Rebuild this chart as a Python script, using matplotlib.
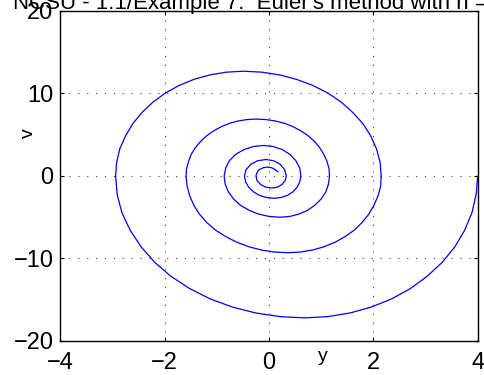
import matplotlib
matplotlib.use("Agg")
import matplotlib.pyplot as plt

# phase portrait points (y, v),
# from the start at the right edge, spiralling inwards (one row per quarter turn)
y_vals = [
    4.00, 3.97, 3.89, 3.75, 3.56, 3.32, 3.03, 2.71, 2.35, 1.96, 1.55, 1.12, 0.69,
    0.22, -0.25, -0.70, -1.125, -1.52, -1.88, -2.19, -2.45, -2.66, -2.82, -2.91, -2.94,
    -2.92, -2.86, -2.75, -2.61, -2.43, -2.22, -1.98, -1.715, -1.43, -1.12, -0.81, -0.49,
    -0.145, 0.19, 0.52, 0.83, 1.12, 1.38, 1.60, 1.80, 1.95, 2.06, 2.13, 2.15,
    2.14, 2.09, 2.01, 1.91, 1.78, 1.63, 1.45, 1.26, 1.05, 0.83, 0.60, 0.37,
    0.11, -0.14, -0.38, -0.61, -0.82, -1.02, -1.19, -1.33, -1.44, -1.52, -1.57, -1.59,
    -1.58, -1.54, -1.49, -1.41, -1.31, -1.195, -1.06, -0.915, -0.76, -0.59, -0.42, -0.24,
    -0.06, 0.12, 0.30, 0.46, 0.61, 0.75, 0.87, 0.97, 1.05, 1.11, 1.15, 1.16,
    1.14, 1.09, 1.00, 0.88, 0.74, 0.57, 0.40, 0.21,
    0.0, -0.20, -0.38, -0.55, -0.68, -0.78, -0.84, -0.86,
    -0.83, -0.76, -0.64, -0.48, -0.30, -0.10,
    0.08, 0.255, 0.40, 0.515, 0.59, 0.61,
    0.59, 0.54, 0.46, 0.355, 0.23, 0.10,
    -0.05, -0.185, -0.30, -0.39, -0.45, -0.47,
    -0.44, -0.35, -0.22, -0.06,
    0.09, 0.215, 0.30, 0.33,
    0.31, 0.25, 0.16, 0.05,
    -0.065, -0.16, -0.23, -0.25,
    -0.23, -0.19, -0.11, -0.03,
    0.05, 0.12, 0.17,
]
v_vals = [
    0.0, -2.24, -4.45, -6.58, -8.6, -10.47, -12.16, -13.65, -14.9, -15.89, -16.61, -17.05, -17.2,
    -17.05, -16.61, -15.89, -14.9, -13.65, -12.16, -10.47, -8.6, -6.58, -4.45, -2.24, 0.0,
    1.66, 3.29, 4.86, 6.35, 7.73, 8.98, 10.08, 11.0, 11.73, 12.27, 12.59, 12.7,
    12.59, 12.27, 11.73, 11.0, 10.08, 8.98, 7.73, 6.35, 4.86, 3.29, 1.66, 0.0,
    -1.21, -2.41, -3.56, -4.65, -5.66, -6.58, -7.38, -8.05, -8.59, -8.98, -9.22, -9.3,
    -9.22, -8.98, -8.59, -8.05, -7.38, -6.58, -5.66, -4.65, -3.56, -2.41, -1.21, 0.0,
    0.90, 1.79, 2.64, 3.45, 4.20, 4.88, 5.47, 5.98, 6.38, 6.67, 6.84, 6.9,
    6.84, 6.67, 6.38, 5.98, 5.47, 4.88, 4.20, 3.45, 2.64, 1.79, 0.90, 0.0,
    -0.98, -1.91, -2.78, -3.54, -4.16, -4.62, -4.90, -5.0,
    -4.90, -4.62, -4.16, -3.54, -2.78, -1.91, -0.98, 0.0,
    0.96, 1.85, 2.62, 3.20, 3.57, 3.7,
    3.57, 3.20, 2.62, 1.85, 0.96, 0.0,
    -0.70, -1.35, -1.91, -2.34, -2.61, -2.7,
    -2.61, -2.34, -1.91, -1.35, -0.70, 0.0,
    0.77, 1.41, 1.85, 2.0,
    1.85, 1.41, 0.77, 0.0,
    -0.56, -1.03, -1.35, -1.46,
    -1.35, -1.03, -0.56, 0.0,
    0.41, 0.76, 1.0, 1.08,
    1.0, 0.78, 0.5,
]

x_ticks = [-4, -2, 0, 2, 4]
y_ticks = [-20, -10, 0, 10, 20]
title = "NCSU - 1.1/Example 7:  Euler's method with h = 0.1"

plt.rcParams['font.family'] = ['Liberation Sans', 'DejaVu Sans']

fig = plt.figure(figsize=(4.84, 3.75), dpi=100)
ax = fig.add_axes([0.1246, 0.0907, 0.8624, 0.88])

ax.plot(y_vals, v_vals, color='#0000ff', lw=0.9)

ax.set_xlim(-4, 4)
ax.set_ylim(-20, 20)
ax.set_xticks(x_ticks)
ax.set_yticks(y_ticks)
ax.tick_params(direction='in', length=3, width=0.8, labelsize=17,
               top=True, right=True)
ax.tick_params(axis='x', pad=8)
ax.tick_params(axis='y', pad=5)
ax.grid(True, color='0.25', linestyle=(0, (1, 7)), lw=0.8)
for sp in ax.spines.values():
    sp.set_linewidth(1.0)

ax.set_xlabel('y', fontsize=14)
ax.xaxis.set_label_coords(0.63, -0.02)
ax.set_ylabel('v', fontsize=14)
ax.yaxis.set_label_coords(-0.055, 0.63)

ax.text(0.5, 1.005, title, transform=ax.transAxes, ha='center',
        va='baseline', fontsize=16)

fig.savefig('out.png', dpi=100)
